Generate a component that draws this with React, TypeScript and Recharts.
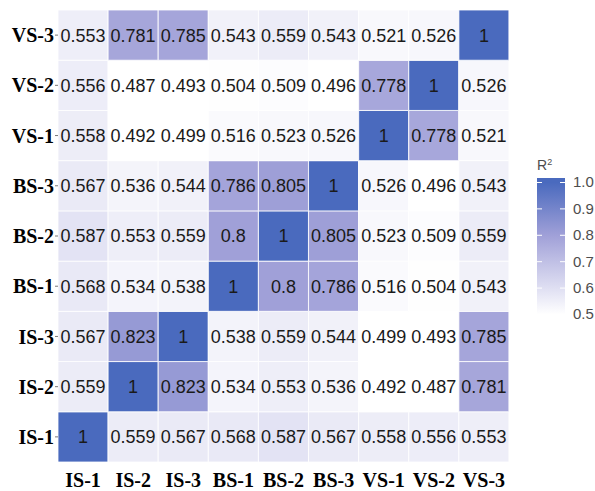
import { BarChart, Bar, XAxis, YAxis, Cell, LabelList } from 'recharts';

// sample names, same order for columns (left -> right) and rows (bottom -> top)
const samples = ["IS-1", "IS-2", "IS-3", "BS-1", "BS-2", "BS-3", "VS-1", "VS-2", "VS-3"];

// R2 rows, bottom row first; each row lists the columns left to right
const rowIS1 = [1, 0.559, 0.567, 0.568, 0.587, 0.567, 0.558, 0.556, 0.553];
const rowIS2 = [0.559, 1, 0.823, 0.534, 0.553, 0.536, 0.492, 0.487, 0.781];
const rowIS3 = [0.567, 0.823, 1, 0.538, 0.559, 0.544, 0.499, 0.493, 0.785];
const rowBS1 = [0.568, 0.534, 0.538, 1, 0.8, 0.786, 0.516, 0.504, 0.543];
const rowBS2 = [0.587, 0.553, 0.559, 0.8, 1, 0.805, 0.523, 0.509, 0.559];
const rowBS3 = [0.567, 0.536, 0.544, 0.786, 0.805, 1, 0.526, 0.496, 0.543];
const rowVS1 = [0.558, 0.492, 0.499, 0.516, 0.523, 0.526, 1, 0.778, 0.521];
const rowVS2 = [0.556, 0.487, 0.493, 0.504, 0.509, 0.496, 0.778, 1, 0.526];
const rowVS3 = [0.553, 0.781, 0.785, 0.543, 0.559, 0.543, 0.521, 0.526, 1];

const rows = [rowIS1, rowIS2, rowIS3, rowBS1, rowBS2, rowBS3, rowVS1, rowVS2, rowVS3];

const legendBreaks = [0.5, 0.6, 0.7, 0.8, 0.9, 1.0];

// white -> lavender -> blue
const stops: [number, number[]][] = [
  [0.5, [255, 255, 255]],
  [0.8, [160, 160, 216]],
  [1.0, [74, 106, 190]],
];

function colorFor(v: number) {
  if (v <= stops[0][0]) return `rgb(${stops[0][1].join(",")})`;
  for (let k = 1; k < stops.length; k++) {
    const [v1, c1] = stops[k];
    const [v0, c0] = stops[k - 1];
    if (v <= v1) {
      const t = (v - v0) / (v1 - v0);
      const c = c0.map((x, i) => Math.round(x + (c1[i] - x) * t));
      return `rgb(${c.join(",")})`;
    }
  }
  return `rgb(${stops[stops.length - 1][1].join(",")})`;
}

// one entry per column; r{i} is the unit height of row i, v{i} the R2 value
const data = samples.map((name, j) => {
  const d: any = { col: name };
  rows.forEach((r, i) => {
    d[`r${i}`] = 1;
    d[`v${i}`] = r[j];
  });
  return d;
});

const yTicks = samples.map((_, i) => i + 0.5);

const axisFont = { fill: "#000", fontSize: 20, fontWeight: "bold", fontFamily: "Liberation Serif" };

const ColorBar = () => {
  const x = 537, w = 28, top = 178, bottom = 318;
  const lo = 0.4867, hi = 1.017;
  const sy = (v: number) => bottom - ((v - lo) / (hi - lo)) * (bottom - top);
  return (
    <svg width={595} height={491} style={{ position: "absolute", left: 0, top: 0, pointerEvents: "none" }}>
      <defs>
        <linearGradient id="rg" x1="0" y1="1" x2="0" y2="0">
          {[0.4867, 0.5, 0.6, 0.7, 0.8, 0.9, 1.0, 1.017].map((v) => (
            <stop key={v} offset={(v - lo) / (hi - lo)} stopColor={colorFor(v)} />
          ))}
        </linearGradient>
      </defs>
      <text x={x} y={170} fontSize={14} fill="#4d4d4d" fontFamily="Liberation Sans">
        R<tspan dy={-5} fontSize={9}>2</tspan>
      </text>
      <rect x={x} y={top} width={w} height={bottom - top} fill="url(#rg)" />
      {legendBreaks.map((b) => (
        <g key={b}>
          <line x1={x} x2={x + 5} y1={sy(b)} y2={sy(b)} stroke="#fff" strokeWidth={1} />
          <line x1={x + w - 5} x2={x + w} y1={sy(b)} y2={sy(b)} stroke="#fff" strokeWidth={1} />
          <text x={x + w + 8} y={sy(b)} dy={5} fontSize={15} fill="#4d4d4d" fontFamily="Liberation Sans">
            {b.toFixed(1)}
          </text>
        </g>
      ))}
    </svg>
  );
};

export default function App() {
  return (
    <div style={{ position: "absolute", left: 0, top: 0, width: 595, height: 491, background: "#fff" }}>
      <BarChart
        width={595}
        height={491}
        data={data}
        margin={{ top: 10, right: 86, bottom: 0, left: 0 }}
        barCategoryGap={0}
        barGap={0}
      >
        <XAxis
          dataKey="col"
          axisLine={false}
          tickLine={false}
          height={29}
          tickMargin={5}
          tick={axisFont}
          interval={0}
        />
        <YAxis
          type="number"
          domain={[0, 9]}
          ticks={yTicks}
          width={58}
          axisLine={false}
          tickSize={3}
          tickMargin={1}
          tickLine={{ stroke: "#777" }}
          tickFormatter={(t: number) => samples[Math.floor(t)]}
          tick={axisFont}
          allowDataOverflow
        />
        {rows.map((r, i) => (
          <Bar key={i} dataKey={`r${i}`} stackId="a" isAnimationActive={false} stroke="#fff" strokeWidth={0.8}>
            {r.map((v, j) => (
              <Cell key={j} fill={colorFor(v)} />
            ))}
            <LabelList
              dataKey={`v${i}`}
              position="center"
              fill="#1a1a1a"
              fontSize={18}
              fontFamily="Liberation Sans"
            />
          </Bar>
        ))}
      </BarChart>
      <ColorBar />
    </div>
  );
}
